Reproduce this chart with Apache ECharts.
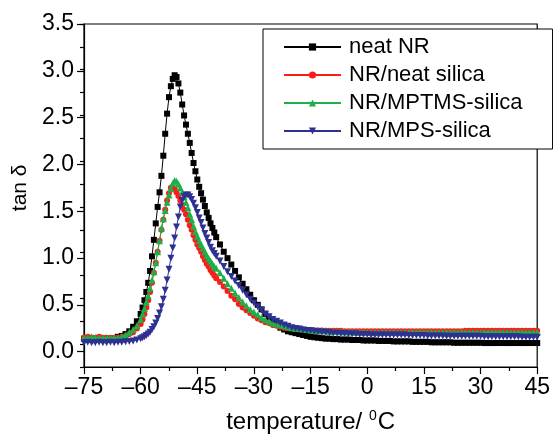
<!DOCTYPE html>
<html>
<head>
<meta charset="utf-8">
<script src="https://cdn.jsdelivr.net/npm/echarts@6/dist/echarts.min.js"></script>
<style>
  html, body { margin: 0; padding: 0; background: #fff; }
  #chart { width: 553px; height: 439px; }
</style>
</head>
<body>
<div id="chart"></div>
<script>
// temperature grid (°C)
const temps = [
  -75, -74, -73, -72, -71, -70, -69, -68, -67, -66, -65, -64, -63, -62, -61,
  -60, -59.5, -59, -58.5, -58, -57.5, -57, -56.5, -56, -55.5, -55, -54.5, -54, -53.5, -53, -52.5,
  -52, -51.5, -51, -50.5, -50, -49.5, -49, -48.5, -48, -47.5, -47, -46.5, -46, -45.5, -45, -44.5,
  -44, -43.5, -43, -42.5, -42, -41.5, -41, -40.5, -40,
  -39, -38, -37, -36, -35, -34, -33, -32, -31, -30, -29, -28, -27, -26, -25, -24, -23, -22, -21, -20,
  -19, -18, -17, -16, -15, -14, -13, -12, -11, -10, -9, -8, -7, -6, -5, -4, -3, -2, -1, 0,
  1, 2, 3, 4, 5, 6, 7, 8, 9, 10, 11, 12, 13, 14, 15, 16, 17, 18, 19, 20,
  21, 22, 23, 24, 25, 26, 27, 28, 29, 30, 31, 32, 33, 34, 35, 36, 37, 38, 39, 40,
  41, 42, 43, 44, 45
];

const neatNR = [
  0.06, 0.06, 0.06, 0.06, 0.06, 0.06, 0.06, 0.06, 0.06, 0.08, 0.09, 0.11, 0.14, 0.19, 0.25,
  0.33, 0.40, 0.48, 0.57, 0.67, 0.80, 0.96, 1.14, 1.32, 1.50, 1.66, 1.84, 2.06, 2.30, 2.52, 2.70,
  2.82, 2.90, 2.94, 2.92, 2.85, 2.75, 2.62, 2.50, 2.40, 2.30, 2.20, 2.09, 1.98, 1.89, 1.80, 1.72,
  1.65, 1.58, 1.51, 1.44, 1.38, 1.32, 1.27, 1.22, 1.17,
  1.09, 1.01, 0.94, 0.87, 0.80, 0.73, 0.66, 0.60, 0.54, 0.48, 0.43, 0.38, 0.33, 0.28, 0.24, 0.21, 0.18, 0.16, 0.14, 0.13,
  0.12, 0.11, 0.10, 0.09, 0.08, 0.075, 0.07, 0.065, 0.06, 0.06, 0.055, 0.055, 0.05, 0.05, 0.05, 0.045, 0.045, 0.045, 0.04, 0.04,
  0.04, 0.04, 0.035, 0.035, 0.035, 0.035, 0.03, 0.03, 0.03, 0.03, 0.03, 0.025, 0.025, 0.025, 0.025, 0.025, 0.02, 0.02, 0.02, 0.02,
  0.02, 0.02, 0.015, 0.015, 0.015, 0.015, 0.015, 0.015, 0.015, 0.015, 0.012, 0.012, 0.012, 0.012, 0.012, 0.012, 0.012, 0.012, 0.012, 0.012,
  0.012, 0.012, 0.012, 0.012, 0.012
];

const neatSilica = [
  0.07, 0.08, 0.07, 0.07, 0.08, 0.07, 0.07, 0.07, 0.07, 0.07, 0.08, 0.09, 0.11, 0.13, 0.17,
  0.22, 0.27, 0.33, 0.40, 0.48, 0.57, 0.67, 0.78, 0.89, 1.01, 1.13, 1.25, 1.36, 1.47, 1.57, 1.65,
  1.71, 1.72, 1.70, 1.66, 1.62, 1.57, 1.52, 1.47, 1.42, 1.36, 1.30, 1.25, 1.19, 1.14, 1.09, 1.05,
  1.01, 0.96, 0.92, 0.88, 0.85, 0.81, 0.78, 0.75, 0.72,
  0.68, 0.63, 0.58, 0.53, 0.49, 0.44, 0.40, 0.37, 0.34, 0.31, 0.28, 0.26, 0.24, 0.23, 0.21, 0.20, 0.19, 0.18, 0.175, 0.17,
  0.165, 0.16, 0.16, 0.155, 0.155, 0.15, 0.15, 0.15, 0.145, 0.145, 0.145, 0.145, 0.145, 0.14, 0.14, 0.14, 0.14, 0.14, 0.14, 0.14,
  0.14, 0.14, 0.14, 0.14, 0.14, 0.14, 0.14, 0.14, 0.14, 0.14, 0.14, 0.14, 0.14, 0.14, 0.14, 0.14, 0.14, 0.14, 0.14, 0.14,
  0.14, 0.14, 0.14, 0.14, 0.14, 0.145, 0.145, 0.145, 0.145, 0.145, 0.145, 0.145, 0.145, 0.145, 0.145, 0.145, 0.145, 0.145, 0.145, 0.145,
  0.145, 0.145, 0.145, 0.145, 0.145
];

const mptmsSilica = [
  0.07, 0.07, 0.08, 0.07, 0.07, 0.07, 0.07, 0.07, 0.07, 0.07, 0.08, 0.10, 0.13, 0.16, 0.20,
  0.27, 0.33, 0.39, 0.46, 0.53, 0.61, 0.70, 0.79, 0.89, 1.01, 1.13, 1.27, 1.37, 1.46, 1.55, 1.63,
  1.70, 1.76, 1.79, 1.78, 1.75, 1.71, 1.66, 1.61, 1.55, 1.49, 1.42, 1.36, 1.29, 1.23, 1.18, 1.13,
  1.09, 1.05, 1.01, 0.97, 0.94, 0.91, 0.88, 0.85, 0.83,
  0.78, 0.72, 0.66, 0.61, 0.56, 0.51, 0.46, 0.42, 0.38, 0.35, 0.32, 0.29, 0.27, 0.25, 0.23, 0.22, 0.21, 0.20, 0.19, 0.18,
  0.175, 0.17, 0.165, 0.16, 0.155, 0.15, 0.15, 0.145, 0.145, 0.14, 0.14, 0.14, 0.135, 0.135, 0.135, 0.135, 0.13, 0.13, 0.13, 0.13,
  0.13, 0.13, 0.13, 0.13, 0.13, 0.13, 0.13, 0.13, 0.13, 0.13, 0.13, 0.13, 0.13, 0.13, 0.13, 0.13, 0.13, 0.13, 0.13, 0.13,
  0.13, 0.13, 0.13, 0.13, 0.13, 0.13, 0.13, 0.13, 0.13, 0.13, 0.13, 0.13, 0.13, 0.13, 0.13, 0.13, 0.13, 0.13, 0.13, 0.13,
  0.13, 0.13, 0.13, 0.13, 0.13
];

const mpsSilica = [
  0.015, 0.02, 0.015, 0.015, 0.02, 0.015, 0.015, 0.02, 0.015, 0.02, 0.02, 0.025, 0.03, 0.035, 0.045,
  0.06, 0.07, 0.08, 0.095, 0.11, 0.13, 0.16, 0.19, 0.23, 0.28, 0.34, 0.41, 0.49, 0.59, 0.70, 0.82,
  0.94, 1.05, 1.16, 1.28, 1.39, 1.50, 1.57, 1.61, 1.63, 1.63, 1.61, 1.58, 1.54, 1.49, 1.44, 1.38,
  1.33, 1.27, 1.21, 1.16, 1.11, 1.06, 1.02, 0.99, 0.96,
  0.91, 0.85, 0.79, 0.74, 0.69, 0.64, 0.59, 0.54, 0.49, 0.45, 0.41, 0.37, 0.33, 0.30, 0.27, 0.25, 0.23, 0.21, 0.195, 0.18,
  0.17, 0.165, 0.155, 0.15, 0.145, 0.14, 0.135, 0.13, 0.13, 0.125, 0.12, 0.12, 0.115, 0.115, 0.11, 0.11, 0.11, 0.105, 0.105, 0.105,
  0.10, 0.10, 0.10, 0.10, 0.10, 0.10, 0.10, 0.10, 0.10, 0.10, 0.095, 0.095, 0.095, 0.095, 0.095, 0.09, 0.09, 0.09, 0.09, 0.09,
  0.085, 0.085, 0.085, 0.085, 0.085, 0.085, 0.085, 0.085, 0.085, 0.085, 0.08, 0.08, 0.08, 0.08, 0.08, 0.08, 0.08, 0.08, 0.08, 0.08,
  0.075, 0.075, 0.075, 0.075, 0.075
];

const seriesNames = ['neat NR', 'NR/neat silica', 'NR/MPTMS-silica', 'NR/MPS-silica'];
const seriesValues = [neatNR, neatSilica, mptmsSilica, mpsSilica];
const seriesColors = ['#000000', '#ff1a1a', '#1db04a', '#2e3192'];
const seriesSymbols = ['rect', 'circle', 'triangle', 'path://M0,0 L10,0 L5,9 Z'];
const symbolSizes = [6, 6, 7, 7];

const FONT = 'Liberation Sans, Arial, sans-serif';

const chart = echarts.init(document.getElementById('chart'), null, { renderer: 'canvas' });

const series = seriesNames.map((name, k) => ({
  name,
  type: 'line',
  xAxisIndex: 0,
  yAxisIndex: 0,
  data: temps.map((t, i) => [t, seriesValues[k][i]]),
  symbol: seriesSymbols[k],
  symbolSize: symbolSizes[k],
  showAllSymbol: true,
  lineStyle: { width: 1, color: seriesColors[k] },
  itemStyle: { color: seriesColors[k] },
  z: 2 + k,
}));

const option = {
  animation: false,
  backgroundColor: '#fff',
  grid: [
    { left: 84, right: 14, top: 24, bottom: 64, show: true, borderColor: '#000', borderWidth: 1.2 },
    // second grid only carries the major y ticks/labels (0 .. 3.5)
    { left: 84, right: 14, top: 24, bottom: 87.4, show: false },
  ],
  legend: {
    orient: 'vertical',
    left: 263,
    top: 29,
    padding: [7, 30, 7, 20],
    itemGap: 6,
    itemWidth: 57,
    itemHeight: 9,
    borderColor: '#000',
    borderWidth: 1,
    backgroundColor: '#fff',
    textStyle: { fontFamily: FONT, fontSize: 22, color: '#000', lineHeight: 22, padding: [0, 0, 0, 3] },
    data: seriesNames,
  },
  xAxis: [
    {
      type: 'value',
      gridIndex: 0,
      min: -75,
      max: 45,
      interval: 15,
      name: 'temperature/ {sup|0}C',
      nameLocation: 'middle',
      nameGap: 42,
      nameTextStyle: {
        fontFamily: FONT,
        fontSize: 24,
        color: '#000',
        rich: { sup: { fontFamily: FONT, fontSize: 14, color: '#000', padding: [0, 1, 12, 0] } },
      },
      axisLine: { onZero: false, lineStyle: { color: '#000', width: 1.2 } },
      axisTick: { inside: false, length: 7, lineStyle: { color: '#000', width: 1.2 } },
      minorTick: { show: true, splitNumber: 2, length: 4, lineStyle: { color: '#000', width: 1.2 } },
      splitLine: { show: false },
      axisLabel: {
        fontFamily: FONT,
        fontSize: 23,
        color: '#000',
        margin: 9,
        formatter: (v) => (v < 0 ? '\u2013' + Math.abs(v) : String(v)),
      },
    },
    { type: 'value', gridIndex: 1, min: 0, max: 1, show: false },
  ],
  yAxis: [
    {
      type: 'value',
      gridIndex: 0,
      min: -0.25,
      max: 3.5,
      interval: 0.25,
      axisLine: { show: true, onZero: false, lineStyle: { color: '#000', width: 1.2 } },
      axisTick: { show: true, inside: false, length: 4, lineStyle: { color: '#000', width: 1.2 } },
      axisLabel: { show: false },
      splitLine: { show: false },
    },
    {
      type: 'value',
      gridIndex: 1,
      min: 0,
      max: 3.5,
      interval: 0.5,
      name: 'tan \u03b4',
      nameLocation: 'middle',
      nameGap: 52,
      nameRotate: 90,
      nameTextStyle: { fontFamily: FONT, fontSize: 21, color: '#000' },
      axisLine: { show: false, onZero: false },
      axisTick: { show: true, inside: false, length: 7, lineStyle: { color: '#000', width: 1.2 } },
      axisLabel: {
        fontFamily: FONT,
        fontSize: 23,
        color: '#000',
        margin: 10,
        formatter: (v) => v.toFixed(1),
      },
      splitLine: { show: false },
    },
  ],
  series,
};

chart.setOption(option);
</script>
</body>
</html>
